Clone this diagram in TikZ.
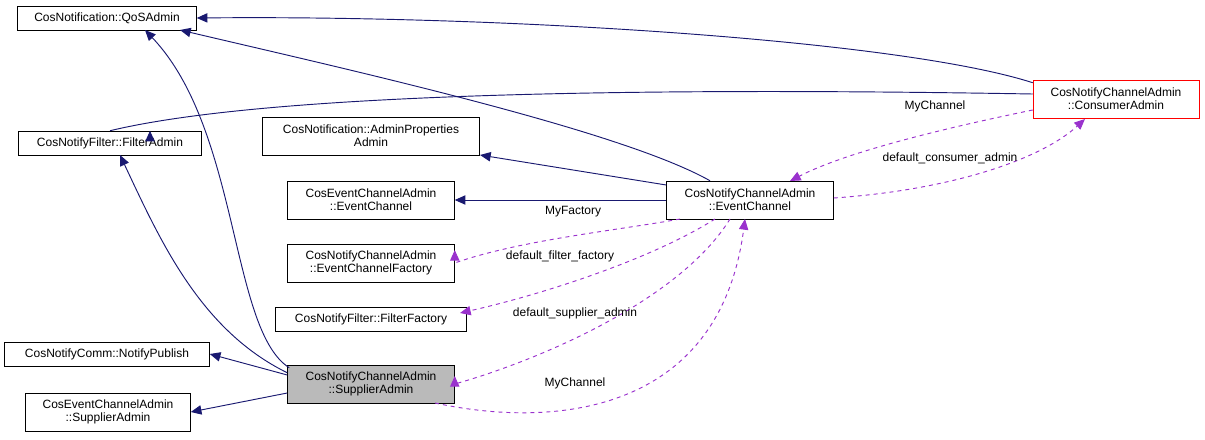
\documentclass[tikz,border=0pt]{standalone}
\usepackage{fontspec}
\setmainfont{Liberation Sans}
\usetikzlibrary{arrows.meta}
\definecolor{navy}{HTML}{191970}
\definecolor{orch}{HTML}{9A32CD}
\begin{document}
\begin{tikzpicture}[x=0.75pt,y=-0.75pt,
 box/.style={draw,inner sep=0pt,align=center,font=\fontsize{9}{10}\selectfont},
 inh/.style={navy,-{Triangle[length=8pt,width=7pt]},line width=0.7pt},
 use/.style={orch,dashed,-{Triangle[length=8pt,width=7pt]},line width=0.7pt},
 lab/.style={font=\fontsize{9}{10}\selectfont}]
\useasboundingbox (0,0) rectangle (1205,439);
\node[box,minimum width=179*0.75pt,minimum height=24*0.75pt] (qos) at (107,18) {CosNotification::QoSAdmin};
\node[box,minimum width=183*0.75pt,minimum height=24*0.75pt] (fa) at (110,143) {CosNotifyFilter::FilterAdmin};
\node[box,minimum width=217*0.75pt,minimum height=38*0.75pt] (ap) at (371,136) {CosNotification::AdminProperties\\Admin};
\node[box,minimum width=167*0.75pt,minimum height=38*0.75pt] (cec) at (371,200) {CosEventChannelAdmin\\::EventChannel};
\node[box,minimum width=167*0.75pt,minimum height=38*0.75pt] (ecf) at (371,263) {CosNotifyChannelAdmin\\::EventChannelFactory};
\node[box,minimum width=191*0.75pt,minimum height=24*0.75pt] (ff) at (371,319) {CosNotifyFilter::FilterFactory};
\node[box,minimum width=205*0.75pt,minimum height=24*0.75pt] (np) at (107,354) {CosNotifyComm::NotifyPublish};
\node[box,minimum width=165*0.75pt,minimum height=38*0.75pt] (esa) at (108,412) {CosEventChannelAdmin\\::SupplierAdmin};
\node[box,fill=black!27,minimum width=167*0.75pt,minimum height=38*0.75pt] (sa) at (371,384) {CosNotifyChannelAdmin\\::SupplierAdmin};
\node[box,minimum width=167*0.75pt,minimum height=38*0.75pt] (ec) at (750,200) {CosNotifyChannelAdmin\\::EventChannel};
\node[box,draw=red,minimum width=166*0.75pt,minimum height=38*0.75pt] (ca) at (1116,99) {CosNotifyChannelAdmin\\::ConsumerAdmin};
% inheritance
\draw[inh] (sa.north west) ++(2,3) .. controls (230,330) and (240,130) .. (145,30);
\draw[inh] (sa.north west) ++(0,8) .. controls (200,330) and (160,240) .. (120,155);
\draw[inh] (sa.west) ++(0,-9) -- (np.east);
\draw[inh] (sa.west) ++(0,9) -- (esa.east);
\draw[inh] (ec.north) ++(-40,0) .. controls (620,130) and (350,70) .. (180,30);
\draw[inh] (ec.west) ++(0,-15) -- (480,155);
\draw[inh] (ec.west) -- (cec.east);
\draw[inh] (ca.north west) ++(0,3) .. controls (900,40) and (500,15) .. (qos.east);
\draw[inh] (ca.west) ++(0,-5) .. controls (800,90) and (300,85) .. (fa.north) ++(40,0);
% usage
\draw[use] (ca.west) ++(0,11) .. controls (960,125) and (850,150) .. (790,181);
\node[lab] (l1) at (935,106) {MyChannel};
\draw[use] (ec.east) ++(0,-2) .. controls (950,190) and (1040,160) .. (1085,119);
\node[lab] (l2) at (950,158) {default\_consumer\_admin};
\draw[use] (680,219) .. controls (620,230) and (520,240) .. (ecf.east) ++(0,-13);
\node[lab] (l3) at (573,212) {MyFactory};
\draw[use] (715,219) .. controls (650,260) and (540,295) .. (460,313);
\node[lab] (l4) at (560,256) {default\_filter\_factory};
\draw[use] (730,219) .. controls (680,300) and (540,360) .. (sa.east) ++(0,-8);
\node[lab] (l5) at (575,313) {default\_supplier\_admin};
\draw[use] (435,403) .. controls (560,430) and (720,410) .. (745,219);
\node[lab] (l6) at (575,383) {MyChannel};
\end{tikzpicture}
\end{document}
